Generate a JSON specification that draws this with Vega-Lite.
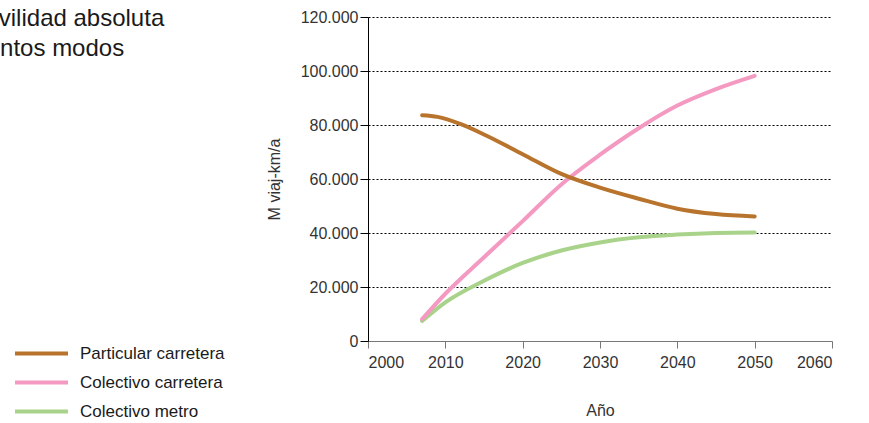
{
  "$schema": "https://vega.github.io/schema/vega-lite/v6.json",
  "autosize": {"type": "none"},
  "width": 464,
  "height": 324,
  "padding": {"left": 368, "top": 17, "right": 37, "bottom": 82},
  "background": "white",
  "title": {
    "text": ["Evolución de la movilidad absoluta", "prevista en los distintos modos"],
    "anchor": "start",
    "frame": "group",
    "orient": "top",
    "align": "left",
    "dx": -572,
    "offset": -52,
    "font": "Liberation Sans",
    "fontSize": 24,
    "fontWeight": "normal",
    "color": "#1a1a1a",
    "lineHeight": 30
  },
  "data": {
    "values": [
      {"year": 2007, "v": 7400, "s": "Colectivo metro"},
      {"year": 2010, "v": 14300, "s": "Colectivo metro"},
      {"year": 2015, "v": 22300, "s": "Colectivo metro"},
      {"year": 2020, "v": 28900, "s": "Colectivo metro"},
      {"year": 2025, "v": 33500, "s": "Colectivo metro"},
      {"year": 2030, "v": 36500, "s": "Colectivo metro"},
      {"year": 2035, "v": 38400, "s": "Colectivo metro"},
      {"year": 2040, "v": 39400, "s": "Colectivo metro"},
      {"year": 2045, "v": 40000, "s": "Colectivo metro"},
      {"year": 2050, "v": 40200, "s": "Colectivo metro"},
      {"year": 2007, "v": 8100, "s": "Colectivo carretera"},
      {"year": 2010, "v": 17500, "s": "Colectivo carretera"},
      {"year": 2015, "v": 31000, "s": "Colectivo carretera"},
      {"year": 2020, "v": 44400, "s": "Colectivo carretera"},
      {"year": 2025, "v": 58000, "s": "Colectivo carretera"},
      {"year": 2030, "v": 69000, "s": "Colectivo carretera"},
      {"year": 2035, "v": 78800, "s": "Colectivo carretera"},
      {"year": 2040, "v": 87200, "s": "Colectivo carretera"},
      {"year": 2045, "v": 93300, "s": "Colectivo carretera"},
      {"year": 2050, "v": 98200, "s": "Colectivo carretera"},
      {"year": 2007, "v": 83600, "s": "Particular carretera"},
      {"year": 2009, "v": 83000, "s": "Particular carretera"},
      {"year": 2012, "v": 80300, "s": "Particular carretera"},
      {"year": 2015, "v": 76500, "s": "Particular carretera"},
      {"year": 2020, "v": 69200, "s": "Particular carretera"},
      {"year": 2025, "v": 61900, "s": "Particular carretera"},
      {"year": 2030, "v": 56800, "s": "Particular carretera"},
      {"year": 2035, "v": 52700, "s": "Particular carretera"},
      {"year": 2040, "v": 49000, "s": "Particular carretera"},
      {"year": 2045, "v": 47000, "s": "Particular carretera"},
      {"year": 2050, "v": 46100, "s": "Particular carretera"}
    ]
  },
  "mark": {"type": "line", "interpolate": "monotone", "strokeWidth": 4, "strokeCap": "round"},
  "encoding": {
    "x": {
      "field": "year", "type": "quantitative",
      "scale": {"domain": [2000, 2060], "nice": false, "zero": false},
      "axis": {
        "title": "Año", "values": [2000, 2010, 2020, 2030, 2040, 2050, 2060],
        "format": "d", "grid": false,
        "domainColor": "#777777", "tickColor": "#777777", "tickSize": 7,
        "labelFont": "Liberation Sans", "labelFontSize": 16, "labelColor": "#333333", "labelPadding": 6,
        "titleFont": "Liberation Sans", "titleFontSize": 16, "titleFontWeight": "normal", "titleColor": "#333333", "titlePadding": 32
      }
    },
    "y": {
      "field": "v", "type": "quantitative",
      "scale": {"domain": [0, 120000], "nice": false},
      "axis": {
        "title": "M viaj-km/a", "values": [0, 20000, 40000, 60000, 80000, 100000, 120000],
        "labelExpr": "replace(format(datum.value, ','), ',', '.')",
        "grid": true, "gridColor": "#000000", "gridDash": [2, 2], "gridWidth": 1,
        "domainColor": "#000000", "tickColor": "#000000", "tickSize": 8,
        "labelFont": "Liberation Sans", "labelFontSize": 16, "labelColor": "#333333", "labelPadding": 2,
        "titleFont": "Liberation Sans", "titleFontSize": 16, "titleFontWeight": "normal", "titleColor": "#333333", "titlePadding": 18
      }
    },
    "color": {
      "field": "s", "type": "nominal",
      "scale": {
        "domain": ["Particular carretera", "Colectivo carretera", "Colectivo metro"],
        "range": ["#B8742D", "#F49AC2", "#A9D38A"]
      },
      "legend": {
        "title": null, "orient": "none", "legendX": -355, "legendY": 323,
        "symbolType": "stroke", "symbolSize": 2809, "symbolStrokeWidth": 4,
        "labelFont": "Liberation Sans", "labelFontSize": 17, "labelColor": "#1a1a1a", "labelOffset": 10,
        "clipHeight": 27, "rowPadding": 2
      }
    }
  },
  "config": {"view": {"stroke": null}}
}
